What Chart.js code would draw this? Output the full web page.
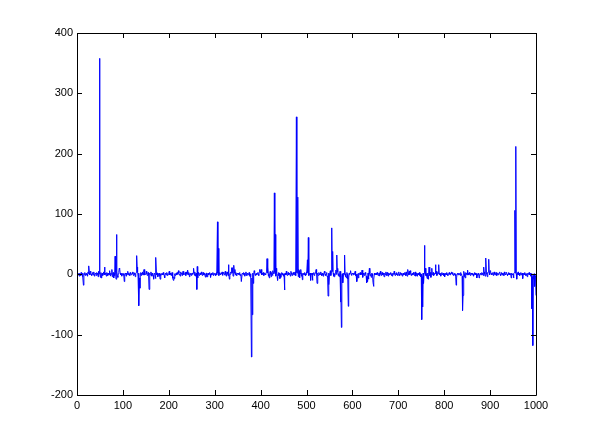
<!DOCTYPE html>
<html>
<head>
<meta charset="utf-8">
<script src="https://cdn.jsdelivr.net/npm/chart.js@4"></script>
<style>
html,body{margin:0;padding:0;background:#fff;}
#wrap{width:592px;height:444px;position:relative;}
</style>
</head>
<body>
<div id="wrap"><canvas id="c" width="592" height="444"></canvas></div>
<script>
// Series values (sample 1..1000)
const seriesValues = [
 0,2,-1,1,-3,2,0,-2,3,1, -1,2,-4,-18,1,0,3,-2,1,-1, 2,0,-3,4,1,14,2,-1,5,3, 0,-2,1,3,-1,2,4,-3,0,2, 1,-2,3,0,2,-4,5,1,358,2,
 -5,3,-6,1,2,-2,0,4,1,12, -1,2,0,-3,3,1,-2,2,0,-1, 6,1,-3,2,0,8,-4,1,3,-6, 2,-2,30,3,-8,66,4,-3,-5,1, 3,10,9,2,-1,0,2,-3,1,0,
 1,-2,-12,0,2,1,-3,2,0,1, 5,-1,2,0,-2,3,1,-1,0,2, 4,1,-2,3,0,2,-4,1,3,31, 12,4,-3,2,-52,-6,-23,1,3,-2, 2,0,4,-1,3,8,2,-1,0,1,
 5,1,-2,0,3,-1,-25,2,0,-1, 4,1,-3,2,0,-2,-8,1,2,-1, -7,28,3,-1,2,-4,1,0,-3,2, -8,1,-2,0,2,1,-1,3,0,-2, -6,1,2,-1,0,3,-2,1,0,2,
 5,-1,2,0,-2,1,3,-3,-6,-10, -4,-7,1,-2,0,2,-1,3,1,0, 6,2,-1,0,-3,4,1,2,-2,3, 5,-1,2,0,1,3,-2,4,1,0, 7,2,-1,3,-4,1,0,2,-2,1,
 2,0,3,10,1,-2,4,0,-3,2, -25,13,-6,3,1,-2,0,2,-1,1, 4,0,-2,1,3,-1,0,2,-3,-5, 1,2,-4,-4,0,2,-1,1,3,0, -5,1,2,-1,0,3,-2,1,0,2,
 1,-2,0,3,-1,87,2,43,-2,1, 3,0,-1,2,1,4,-2,0,3,2, -1,1,5,0,-3,2,4,1,-2,16, 2,-8,1,0,4,2,11,3,11,-3, 5,15,2,8,-1,3,0,-2,2,1,
 0,2,-1,3,1,-2,0,-12,-12,2, 1,0,3,-1,2,-3,1,4,0,-2, 2,1,-1,0,3,-2,-4,1,-3,-137, -6,-67,2,-15,0,6,3,-2,1,0, 2,-1,1,3,0,-2,4,8,5,2,
 8,1,-1,2,0,3,-2,1,2,0, -1,3,4,26,2,12,-3,1,-6,2, 5,0,-4,3,1,-2,6,2,1,135, 3,66,-3,10,2,-4,-10,1,3,-2, 2,-7,0,-5,1,3,-1,2,0,-3,
 1,-26,0,2,-1,5,1,-2,0,3, -1,2,0,1,-3,5,2,0,-2,1, 3,0,-1,2,4,1,-2,261,3,2, 128,-4,8,6,-6,2,1,8,-3,2, -9,1,0,2,-1,3,1,-2,0,4,
 2,24,3,61,-2,1,0,2,-10,1, 0,2,-10,-1,1,3,-2,0,2,4, 8,1,-15,2,0,-2,3,1,-1,0, 4,1,-2,0,2,-3,1,-1,5,2, 0,-2,1,3,-4,-3,-36,2,-17,1,
 3,6,-2,4,77,5,38,2,-3,-4, 1,-2,3,7,0,32,4,10,-2,1, -4,-3,5,-46,-8,-88,-2,1,-14,-3, 2,0,32,1,-4,-2,-6,3,0,-8, -53,-6,2,0,3,6,1,-2,0,2,
 1,-1,2,0,3,5,-2,0,-4,-12, -3,1,-6,2,0,1,3,-1,2,0, 7,1,-5,2,0,-2,1,3,0,-3, -14,-4,-12,2,-8,-3,10,1,-2,0, -5,2,1,-3,-14,-20,-8,2,-1,1,
 0,2,-1,3,1,-2,0,2,-3,1, 5,0,-2,1,3,-1,2,0,-4,1, 2,-1,4,0,-2,3,1,-3,2,0, -1,2,0,3,-2,1,-3,2,1,0, 5,1,-2,0,2,-1,3,0,-2,1,
 4,0,-2,1,3,-1,0,2,-3,1, 2,-1,0,3,1,-2,4,0,-3,2, 8,2,-1,5,0,6,3,-2,1,0, 2,-1,3,0,-2,1,4,-3,0,2, -3,1,2,-1,0,3,-2,1,-4,0,
 -75,-4,-54,2,-15,1,48,3,10,-2, 1,-3,-7,2,-8,0,12,1,-2,3, -5,2,10,-1,0,3,-2,1,0,2, 16,1,5,-2,0,3,1,16,2,-1, 0,2,-3,1,3,0,-1,2,-2,1,
 -4,1,0,2,-1,3,0,-2,1,2, 3,0,-1,2,1,4,2,3,0,-2, 1,-1,2,0,-3,-18,-6,1,0,2, -1,2,0,1,-2,3,0,-1,-3,-60, -35,-2,5,1,-4,-6,3,0,2,-1,
 7,0,2,-1,3,0,-2,1,2,0, -1,2,0,-3,1,3,0,2,-1,1, -6,-2,1,0,2,-6,-3,1,0,2, -1,3,0,2,-2,12,4,1,-3,2, 27,3,0,-4,2,4,25,3,-1,6,
 5,1,-1,2,0,3,-2,1,4,0, -1,2,3,0,-2,1,2,-1,0,3, 4,0,-2,1,3,-1,2,0,1,-2, 4,1,0,-1,3,2,0,-2,1,3, 0,2,-1,1,0,-6,2,0,-1,1,
 -6,1,3,106,2,212,1,-8,2,0, 4,-1,2,0,-2,1,3,-1,0,2, -7,1,0,2,-1,3,0,-2,1,0, -4,2,1,0,3,-1,2,0,-3,1, -57,-4,-118,-2,-8,1,-20,-3,-2,-35
];
const xTicks = [0,100,200,300,400,500,600,700,800,900,1000];
const yTicks = [-200,-100,0,100,200,300,400];

const points = seriesValues.map((v, i) => ({x: i + 1, y: v}));

const frame = {
  id: 'frame',
  afterDraw(chart) {
    const ctx = chart.ctx, a = chart.chartArea;
    const xs = chart.scales.x, ys = chart.scales.y;
    ctx.save();
    ctx.strokeStyle = '#000';
    ctx.lineWidth = 1;
    ctx.beginPath();
    ctx.rect(Math.round(a.left) + 0.5, Math.round(a.top) + 0.5,
             Math.round(a.right - a.left), Math.round(a.bottom - a.top));
    const L = 5;
    xTicks.forEach(t => {
      const px = Math.round(xs.getPixelForValue(t)) + 0.5;
      ctx.moveTo(px, a.bottom); ctx.lineTo(px, a.bottom - L);
      ctx.moveTo(px, a.top); ctx.lineTo(px, a.top + L);
    });
    yTicks.forEach(t => {
      const py = Math.round(ys.getPixelForValue(t)) + 0.5;
      ctx.moveTo(a.left, py); ctx.lineTo(a.left + L, py);
      ctx.moveTo(a.right, py); ctx.lineTo(a.right - L, py);
    });
    ctx.stroke();
    ctx.restore();
  }
};

const tickFont = { family: 'Liberation Sans', size: 11 };

new Chart(document.getElementById('c'), {
  type: 'line',
  data: {
    datasets: [{
      data: points,
      borderColor: '#0000ff',
      borderWidth: 1,
      pointRadius: 0,
      tension: 0,
      fill: false
    }]
  },
  options: {
    responsive: false,
    animation: false,
    events: [],
    layout: { padding: { left: 0, top: 33, right: 56, bottom: 0 } },
    plugins: { legend: { display: false }, tooltip: { enabled: false } },
    scales: {
      x: {
        type: 'linear', min: 0, max: 1000,
        afterBuildTicks: s => { s.ticks = xTicks.map(v => ({value: v})); },
        afterFit: s => { s.height = 49; },
        grid: { display: false, drawTicks: false },
        border: { display: false },
        ticks: { color: '#000', font: tickFont, padding: 4, maxRotation: 0, autoSkip: false,
                 callback: v => String(v) }
      },
      y: {
        type: 'linear', min: -200, max: 400,
        afterBuildTicks: s => { s.ticks = yTicks.map(v => ({value: v})); },
        afterFit: s => { s.width = 77; },
        grid: { display: false, drawTicks: false },
        border: { display: false },
        ticks: { color: '#000', font: tickFont, padding: 4, callback: v => String(v) }
      }
    }
  },
  plugins: [frame]
});
</script>
</body>
</html>
